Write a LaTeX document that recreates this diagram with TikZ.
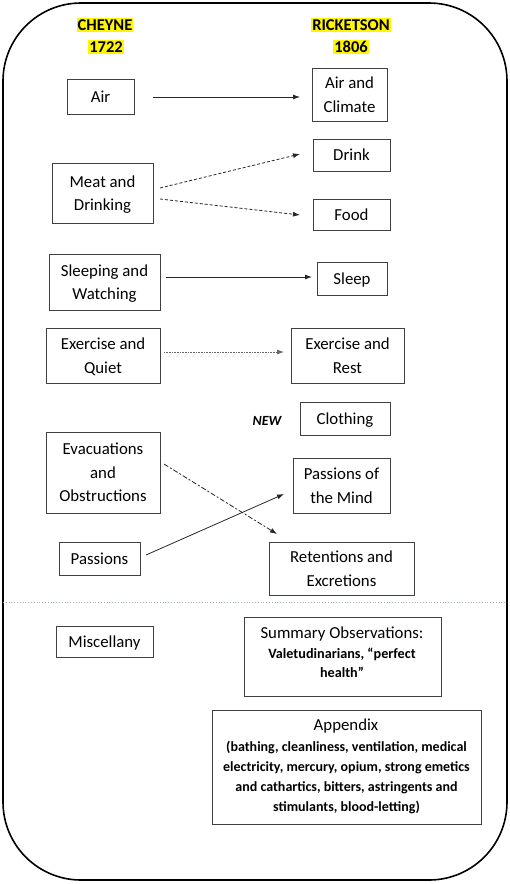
\documentclass[tikz,border=0pt]{standalone}
\usepackage{fontspec}
\setmainfont{Carlito}
\usetikzlibrary{arrows.meta}
\definecolor{hl}{RGB}{255,245,0}
\definecolor{divider}{RGB}{160,175,190}
\tikzset{
  box/.style={draw=black!75, line width=0.9pt, align=center, font=\fontsize{16.8}{23.5}\selectfont, inner sep=0pt, text depth=0pt},
  title/.style={fill=hl, font=\fontsize{16.5}{20}\selectfont\bfseries, inner xsep=1pt, inner ysep=1.5pt},
  arr/.style={-{Latex[length=7pt,width=5pt]}, line width=0.8pt, black!85},
}
\begin{document}
\begin{tikzpicture}[x=1pt,y=-1pt]
\useasboundingbox (0,0) rectangle (510,884);
\draw[line width=1.6pt] (3,3) [rounded corners=78pt] rectangle (507,880);
% titles
\node[title] (c1) at (105,25) {CHEYNE};
\node[title] (c2) at (106,47) {1722};
\node[title] (r1) at (351,25) {RICKETSON};
\node[title] (r2) at (351,47) {1806};
% left column
\node[box, minimum width=67pt, minimum height=35pt] (air) at (100.5,96.5) {Air};
\node[box, minimum width=101pt, minimum height=60pt] (meat) at (102.5,193) {Meat and\\Drinking};
\node[box, minimum width=111pt, minimum height=56pt] (sleepw) at (104.5,282) {Sleeping and\\Watching};
\node[box, minimum width=114pt, minimum height=55pt] (exq) at (103,355.5) {Exercise and\\Quiet};
\node[box, minimum width=114pt, minimum height=81pt] (evac) at (103,472.5) {Evacuations\\and\\Obstructions};
\node[box, minimum width=81pt, minimum height=33pt] (pass) at (99.5,558.5) {Passions};
\node[box, minimum width=97pt, minimum height=31pt] (misc) at (104.5,641.5) {Miscellany};
% right column
\node[box, minimum width=75pt, minimum height=53pt] (airc) at (349.5,94.5) {Air and\\Climate};
\node[box, minimum width=77pt, minimum height=32pt] (drink) at (351.5,155) {Drink};
\node[box, minimum width=77pt, minimum height=31pt] (food) at (351.5,214.5) {Food};
\node[box, minimum width=70pt, minimum height=33pt] (sleep) at (352,278.5) {Sleep};
\node[box, minimum width=113pt, minimum height=55pt] (exr) at (347.5,355.5) {Exercise and\\Rest};
\node[font=\fontsize{14}{16}\selectfont\bfseries\itshape] (new) at (267,421) {NEW};
\node[box, minimum width=90pt, minimum height=33pt] (cloth) at (345,418.5) {Clothing};
\node[box, minimum width=97pt, minimum height=55pt] (pmind) at (341.5,485.5) {Passions of\\the Mind};
\node[box, minimum width=145pt, minimum height=53pt] (ret) at (341.5,568.5) {Retentions and\\Excretions};
\node[box, minimum width=197pt, minimum height=79pt, align=center] (summ) at (342.5,656.5) {};
\node (summt) at (342,634) {\fontsize{16.8}{20}\selectfont Summary Observations:};
\node[align=center, font=\fontsize{14.2}{18.5}\selectfont\bfseries] (summb) at (342,663) {Valetudinarians, “perfect\\health”};
\node[box, minimum width=269pt, minimum height=114pt] (app) at (346.5,767) {};
\node (appt) at (346,726) {\fontsize{16.8}{20}\selectfont Appendix};
\node[align=center, font=\fontsize{14}{20}\selectfont\bfseries] (appb) at (346.5,777) {(bathing, cleanliness, ventilation, medical\\electricity, mercury, opium, strong emetics\\and cathartics, bitters, astringents and\\stimulants, blood-letting)};
% divider
\coordinate (dl) at (3,602);
\coordinate (dr) at (507,602);
\draw[divider, line width=0.8pt, dotted] (dl) -- (dr);
% connectors
\coordinate (a1) at (153,97);
\coordinate (a2) at (300,97);
\draw[arr] (a1) -- (a2);
\coordinate (m1) at (160,188);
\coordinate (m2) at (300,154);
\coordinate (m3) at (160,199);
\coordinate (m4) at (300,215);
\draw[arr, dash pattern=on 3pt off 2pt] (m1) -- (m2);
\draw[arr, dash pattern=on 3pt off 2pt] (m3) -- (m4);
\coordinate (s1) at (166,277);
\coordinate (s2) at (312,277);
\draw[arr] (s1) -- (s2);
\coordinate (e1) at (164,352);
\coordinate (e2) at (284,352);
\draw[arr, dash pattern=on 1pt off 0.6pt, black!60] (e1) -- (e2);
\coordinate (v1) at (164,464);
\coordinate (v2) at (277,534);
\draw[arr, dash pattern=on 5pt off 2pt on 2pt off 2pt] (v1) -- (v2);
\coordinate (p1) at (146,555);
\coordinate (p2) at (284,494);
\draw[arr] (p1) -- (p2);
\end{tikzpicture}
\end{document}
